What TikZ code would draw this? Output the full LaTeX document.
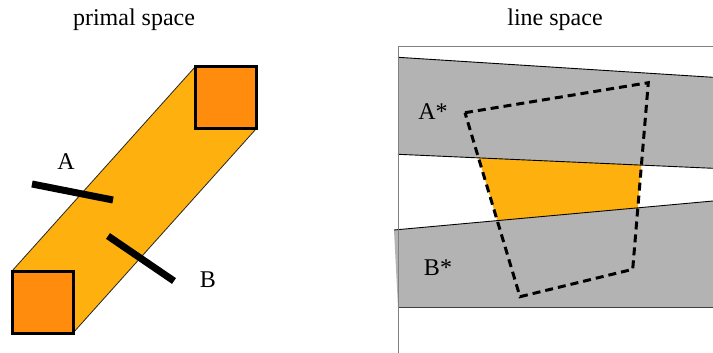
\documentclass[tikz,border=0pt]{standalone}
\usepackage{fontspec}
\setmainfont{Liberation Serif}
\definecolor{bandorange}{HTML}{FDB00E}
\definecolor{sqorange}{HTML}{FF8C0C}
\definecolor{bandgray}{HTML}{B3B3B3}
\begin{document}
\begin{tikzpicture}[x=1pt,y=-1pt,
  lbl/.style={font=\fontsize{24}{26}\selectfont, inner sep=0pt},
  sq/.style={draw=black, line width=3pt, fill=sqorange},
  stick/.style={line width=7pt},
  dashquad/.style={line width=3pt, dash pattern=on 8pt off 5pt}]
\useasboundingbox (0,0) rectangle (713,353);
% titles
\node[lbl] (t1) at (134,20) {primal space};
\node[lbl] (t2) at (555,20) {line space};
% primal space
\fill[bandorange, draw=black!85, line width=0.8pt] (12,271) -- (195,67) -- (256,129) -- (73,333) -- cycle;
\draw[sq] (195,67) rectangle (256,129);
\draw[sq] (12,271) rectangle (73,333);
\coordinate (a1) at (32,184); \coordinate (a2) at (113,200);
\coordinate (b1) at (108,236); \coordinate (b2) at (174,281);
\draw[stick] (a1) -- (a2);
\draw[stick] (b1) -- (b2);
\node[lbl] (A) at (66,162) {A};
\node[lbl] (B) at (208,280) {B};
% line space
\fill[bandgray] (398,57.3) -- (713,77.3) -- (713,168.3) -- (398,154.3) -- cycle;
\draw[line width=0.9pt] (398,57.3) -- (713,77.3);
\fill[bandgray] (394,230) -- (713,201) -- (713,307) -- (398,307) -- cycle;
\draw[line width=1pt, black!75] (398,307) -- (713,307);
\begin{scope}
\clip (465,112.7) -- (648.3,82.7) -- (632.7,269.3) -- (520,296.7) -- cycle;
\fill[bandorange] (398,154.3) -- (713,168.3) -- (713,201) -- (394,230) -- cycle;
\end{scope}
\draw[line width=0.9pt] (398,154.3) -- (713,168.3);
\draw[line width=0.9pt] (394,230) -- (713,201);
\draw[gray, line width=1pt] (713,47) -- (398.5,47) -- (398.5,352.5);
\draw[dashquad] (465,112.7) -- (648.3,82.7) -- (632.7,269.3) -- (520,296.7) -- cycle;
\node[lbl] (As) at (433,112) {A*};
\node[lbl] (Bs) at (438,268) {B*};
\end{tikzpicture}
\end{document}
